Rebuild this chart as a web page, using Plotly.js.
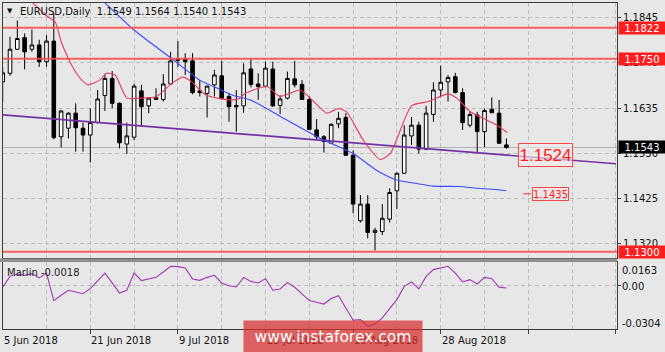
<!DOCTYPE html>
<html><head><meta charset="utf-8">
<script src="https://cdn.plot.ly/plotly-3.0.1.min.js"></script>
<style>html,body{margin:0;padding:0;background:#e7e7e7;overflow:hidden}#chart{width:665px;height:352px}</style>
</head><body><div id="chart"></div>
<script>
// ---------- data ----------
const dates = ['2018-06-05','2018-06-06','2018-06-07','2018-06-08','2018-06-11','2018-06-12','2018-06-13','2018-06-14','2018-06-15','2018-06-18',
'2018-06-19','2018-06-20','2018-06-21','2018-06-22','2018-06-25','2018-06-26','2018-06-27','2018-06-28','2018-06-29','2018-07-02',
'2018-07-03','2018-07-04','2018-07-05','2018-07-06','2018-07-09','2018-07-10','2018-07-11','2018-07-12','2018-07-13','2018-07-16',
'2018-07-17','2018-07-18','2018-07-19','2018-07-20','2018-07-23','2018-07-24','2018-07-25','2018-07-26','2018-07-27','2018-07-30',
'2018-07-31','2018-08-01','2018-08-02','2018-08-03','2018-08-06','2018-08-07','2018-08-08','2018-08-09','2018-08-10','2018-08-13',
'2018-08-14','2018-08-15','2018-08-16','2018-08-17','2018-08-20','2018-08-21','2018-08-22','2018-08-23','2018-08-24','2018-08-27',
'2018-08-28','2018-08-29','2018-08-30','2018-08-31','2018-09-03','2018-09-04','2018-09-05','2018-09-06','2018-09-07','2018-09-10'];
const openP = [1.1696,1.1716,1.1772,1.1799,1.1772,1.1782,1.1743,1.1791,1.1568,1.1588,
1.1623,1.1588,1.1572,1.1601,1.1664,1.1704,1.1646,1.1551,1.1567,1.1675,
1.1640,1.1655,1.1655,1.1691,1.1746,1.1749,1.1745,1.1675,1.1669,1.1689,
1.1710,1.1662,1.1641,1.1640,1.1726,1.1691,1.1686,1.1726,1.1641,1.1658,
1.1703,1.1690,1.1655,1.1584,1.1568,1.1553,1.1598,1.1613,1.1525,1.1372,
1.1411,1.1345,1.1347,1.1376,1.1442,1.1483,1.1570,1.1595,1.1539,1.1620,
1.1677,1.1696,1.1708,1.1671,1.1595,1.1619,1.1580,1.1632,1.1623,1.1549];
const highP = [1.1731,1.1801,1.1839,1.1809,1.1818,1.1794,1.1805,1.1856,1.1630,1.1625,
1.1646,1.1601,1.1634,1.1677,1.1714,1.1721,1.1648,1.1601,1.1691,1.1689,
1.1660,1.1681,1.1714,1.1766,1.1791,1.1763,1.1763,1.1700,1.1687,1.1724,
1.1745,1.1669,1.1677,1.1739,1.1749,1.1716,1.1743,1.1743,1.1665,1.1720,
1.1745,1.1700,1.1662,1.1609,1.1572,1.1599,1.1626,1.1623,1.1536,1.1432,
1.1432,1.1356,1.1411,1.1448,1.1484,1.1595,1.1614,1.1603,1.1640,1.1695,
1.1734,1.1712,1.1717,1.1681,1.1626,1.1626,1.1634,1.1660,1.1654,1.1564];
const lowP = [1.1648,1.1710,1.1770,1.1725,1.1766,1.1731,1.1731,1.1562,1.1543,1.1564,
1.1533,1.1533,1.1508,1.1599,1.1628,1.1634,1.1541,1.1528,1.1560,1.1592,
1.1623,1.1654,1.1650,1.1689,1.1731,1.1712,1.1667,1.1662,1.1613,1.1662,
1.1655,1.1603,1.1580,1.1624,1.1683,1.1654,1.1683,1.1638,1.1621,1.1655,
1.1683,1.1654,1.1584,1.1560,1.1531,1.1551,1.1588,1.1523,1.1390,1.1368,
1.1331,1.1303,1.1339,1.1368,1.1400,1.1481,1.1549,1.1529,1.1537,1.1603,
1.1660,1.1650,1.1669,1.1584,1.1590,1.1529,1.1544,1.1624,1.1551,1.1540];
const closeP = [1.1717,1.1772,1.1797,1.1766,1.1782,1.1743,1.1791,1.1566,1.1628,1.1623,
1.1589,1.1572,1.1601,1.1656,1.1704,1.1646,1.1554,1.1570,1.1686,1.1638,
1.1658,1.1659,1.1691,1.1745,1.1748,1.1743,1.1671,1.1671,1.1686,1.1712,
1.1658,1.1638,1.1638,1.1717,1.1690,1.1685,1.1728,1.1640,1.1656,1.1704,
1.1689,1.1655,1.1585,1.1568,1.1557,1.1597,1.1611,1.1525,1.1411,1.1411,
1.1345,1.1350,1.1378,1.1438,1.1483,1.1572,1.1595,1.1539,1.1623,1.1677,
1.1695,1.1706,1.1671,1.1601,1.1620,1.1580,1.1629,1.1624,1.1553,1.1543];

// fast (red) and slow (blue) moving averages, read at bar positions
const redMaBar = [3.7,6.0,7.2,8.0,9.0,10.1,11.0,11.7,13.3,14.2,15.4,17.0,18.8,21.1,23.2,24.7,25.9,27.5,28.8,31.1,32.5,33.2,36.2,38.0,40.7,41.9,44.4,46.0,47.1,49.4,51.7,53.1,56.0,58.3,61.0,62.2,64.0,65.8,67.7,69.1];
const redMaVal = [1.1887,1.1850,1.1835,1.1790,1.1750,1.1716,1.1697,1.1689,1.1700,1.1716,1.1712,1.1658,1.1658,1.1662,1.1693,1.1707,1.1696,1.1669,1.1660,1.1654,1.1658,1.1669,1.1685,1.1662,1.1677,1.1662,1.1623,1.1634,1.1626,1.1560,1.1515,1.1529,1.1640,1.1650,1.1668,1.1658,1.1627,1.1611,1.1595,1.1578];
const blueMaBar = [13.6,17.9,23.4,27.0,29.8,31.5,33.9,38.9,43.5,48.0,51.2,54.0,56.7,59.0,62.6,64.9,68.1,69.0];
const blueMaVal = [1.1887,1.1818,1.1747,1.1700,1.1678,1.1665,1.1654,1.1607,1.1564,1.1529,1.1490,1.1467,1.1459,1.1453,1.1452,1.1448,1.1444,1.1442];

// trend line
const trendBar = [0, 84];
const trendVal = [1.1619, 1.1505];

// Marlin oscillator
const marlin = [-0.0013,0.0063,0.0079,0.0070,0.0082,0.0052,0.0086,-0.0106,-0.0069,-0.0034,
-0.0046,-0.0058,-0.0023,0.0033,0.0086,0.0017,-0.0053,-0.0034,0.0086,0.0033,
0.0044,0.0056,0.0093,0.0133,0.0131,0.0121,0.0045,0.0035,0.0056,0.0070,
0.0017,-0.0002,-0.0011,0.0056,0.0028,0.0017,0.0047,-0.0034,-0.0025,0.0021,
-0.0013,-0.0058,-0.0106,-0.0118,-0.0130,-0.0092,-0.0072,-0.0157,-0.0243,-0.0239,
-0.0285,-0.0269,-0.0227,-0.0162,-0.0099,-0.0007,0.0024,-0.0025,0.0063,0.0110,
0.0121,0.0133,0.0086,0.0024,0.0040,0.0010,0.0056,0.0047,-0.0012,-0.0018];

const levels = [1.1822, 1.1750, 1.1300];
const priceTicks = [1.1845, 1.1740, 1.1635, 1.1530, 1.1425, 1.1320];
const dateLabelBars = [0, 12, 24, 36, 48, 60];
const dateLabels = ['5 Jun 2018','21 Jun 2018','9 Jul 2018','25 Jul 2018','10 Aug 2018','28 Aug 2018'];
const marlinTicks = [0.0163, 0.00, -0.0304];
const marlinTickText = ['0.0163', '0.00', '-0.0304'];
const trendLabel = 1.1524;
const slowMaLabel = 1.1435;
const symbol = 'EURUSD,Daily';
const indName = 'Marlin';

// ---------- chart ----------
const bars = dates.map((d, i) => i);
const last = bars.length - 1;
const BG = '#e7e7e7';
const FONT = 'DejaVu Sans, Verdana, sans-serif';
const GRID = '#bdbdbd';
const AX = '#3c3c3c';
const W = 665, H = 352, ML = 3, MR = 48, MT = 3, MB = 23;
const PW = W - ML - MR, PH = H - MT - MB;
const px = x => (x - ML) / PW;
const py = y => (H - MB - y) / PH;
const X0 = 0.04, X1 = 84.15;

const traces = [
  {type:'candlestick', x:bars, open:openP, high:highP, low:lowP, close:closeP,
   xaxis:'x', yaxis:'y', hoverinfo:'skip', whiskerwidth:0,
   increasing:{line:{color:'#000', width:1}, fillcolor:'#ffffff'},
   decreasing:{line:{color:'#000', width:1}, fillcolor:'#000000'}},
  {type:'scatter', mode:'lines', x:trendBar, y:trendVal, xaxis:'x', yaxis:'y', hoverinfo:'skip',
   line:{color:'#7332a6', width:1.6}},
  {type:'scatter', mode:'lines', x:blueMaBar, y:blueMaVal, xaxis:'x', yaxis:'y', hoverinfo:'skip',
   line:{color:'#3b4dff', width:1.1, shape:'spline', smoothing:0.6}},
  {type:'scatter', mode:'lines', x:redMaBar, y:redMaVal, xaxis:'x', yaxis:'y', hoverinfo:'skip',
   line:{color:'#e83a5c', width:1.1, shape:'spline', smoothing:0.6}},
  {type:'scatter', mode:'lines', x:bars, y:marlin, xaxis:'x2', yaxis:'y2', hoverinfo:'skip',
   line:{color:'#a237b4', width:1.1}}
];

const shapes = [];
levels.forEach(v => shapes.push({type:'line', xref:'paper', x0:0, x1:1, yref:'y', y0:v, y1:v,
  line:{color:'rgba(255,70,70,0.85)', width:2}, layer:'above'}));
shapes.push({type:'line', xref:'paper', x0:0, x1:1, yref:'y', y0:closeP[last], y1:closeP[last],
  line:{color:'#b3b3b3', width:1}, layer:'below'});
shapes.push({type:'rect', xref:'paper', x0:-0.01, x1:1, yref:'paper', y0:py(262), y1:py(258.5),
  fillcolor:'#8e8e8e', line:{width:0}, layer:'above'});
shapes.push({type:'line', xref:'x', x0:71.3, x1:72.4, yref:'y', y0:slowMaLabel, y1:slowMaLabel,
  line:{color:'#ff3030', width:1}, layer:'above'});

const ann = [];
// header
ann.push({xref:'paper', yref:'paper', x:px(9.5), y:py(11.5), text:'▼', showarrow:false,
  font:{family:FONT, size:7, color:'#111'}, xanchor:'center', yanchor:'middle'});
ann.push({xref:'paper', yref:'paper', x:px(18), y:py(12), showarrow:false, xanchor:'left', yanchor:'middle',
  text: symbol + '&nbsp;&nbsp;' + [openP[last], highP[last], lowP[last], closeP[last]].map(v => v.toFixed(4)).join(' '),
  font:{family:FONT, size:10, color:'#111'}});
// right axis boxes
levels.forEach(v => ann.push({xref:'paper', yref:'y', x:1, xshift:1, y:v, xanchor:'left', yanchor:'middle',
  text:v.toFixed(4), showarrow:false, bgcolor:'#ff1e1e', width:46, height:12, borderpad:0,
  font:{family:FONT, size:10, color:'#ffffff'}}));
ann.push({xref:'paper', yref:'y', x:1, xshift:1, y:closeP[last], xanchor:'left', yanchor:'middle',
  text:closeP[last].toFixed(4), showarrow:false, bgcolor:'#000000', width:46, height:12, borderpad:0,
  font:{family:FONT, size:10, color:'#ffffff'}});
// price labels on chart
ann.push({xref:'x', yref:'y', x:74.4, y:trendLabel, yshift:1, text:trendLabel.toFixed(4), showarrow:false,
  xanchor:'center', yanchor:'middle', bordercolor:'#ff4545', borderwidth:1, borderpad:1, width:51, height:20,
  bgcolor:'rgba(240,236,236,0.6)', font:{family:'Liberation Sans, Arial, sans-serif', size:17, color:'#ff2020'}});
ann.push({xref:'x', yref:'y', x:75.0, y:slowMaLabel, text:slowMaLabel.toFixed(4), showarrow:false,
  xanchor:'center', yanchor:'middle', bordercolor:'#ff4545', borderwidth:1, borderpad:0, width:35, height:12,
  font:{family:FONT, size:10, color:'#ff2020'}});
// indicator label
ann.push({xref:'paper', yref:'paper', x:px(5), y:py(272), xanchor:'left', yanchor:'middle', showarrow:false,
  text: indName + ' ' + marlin[last].toFixed(4), font:{family:FONT, size:10, color:'#222'}});
// indicator scale labels
const mShift = [-8.3, -1, 6];
marlinTicks.forEach((v, k) => ann.push({xref:'paper', yref:'y2', x:1, xshift:3, y:v, yshift:mShift[k],
  xanchor:'left', yanchor:'middle', showarrow:false, text:marlinTickText[k],
  font:{family:FONT, size:10, color:'#111'}}));
// date labels
dateLabelBars.forEach((b, k) => ann.push({xref:'x2', yref:'paper', x:Math.max(b, X0 + 0.01),
  xshift:(b < X0 ? -1 : -1), y:py(340), xanchor:'left',
  yanchor:'middle', showarrow:false, text:dateLabels[k], font:{family:FONT, size:10, color:'#111'}}));
// watermark
ann.push({xref:'paper', yref:'paper', x:px(333), y:py(336.5), xanchor:'center', yanchor:'middle', showarrow:false,
  text:'www.instaforex.com', bgcolor:'rgba(216,44,44,0.72)', width:178, height:31, borderpad:0,
  font:{family:FONT, size:15.5, color:'#ffffff'}});

const gridCommon = {showgrid:true, gridcolor:GRID, griddash:'4px,3px', gridwidth:1, zeroline:false,
  showline:true, mirror:true, linecolor:AX, linewidth:1, fixedrange:true};

const layout = {
  width:W, height:H, margin:{l:ML, r:MR, t:MT, b:MB, pad:0},
  paper_bgcolor:BG, plot_bgcolor:BG, showlegend:false, dragmode:false,
  font:{family:FONT, size:10, color:'#111'},
  xaxis:Object.assign({}, gridCommon, {domain:[0,1], anchor:'y', range:[X0, X1], rangeslider:{visible:false},
    tickmode:'linear', tick0:0, dtick:6, showticklabels:false, ticks:''}),
  yaxis:Object.assign({}, gridCommon, {domain:[py(258), 1], anchor:'x', side:'right', range:[1.12854, 1.18798],
    tickmode:'array', tickvals:priceTicks, ticktext:priceTicks.map(v => v.toFixed(4)),
    ticks:'outside', ticklen:3, tickcolor:AX, tickfont:{family:FONT, size:10, color:'#111'}}),
  xaxis2:Object.assign({}, gridCommon, {domain:[0,1], anchor:'y2', matches:'x',
    tickmode:'linear', tick0:0, dtick:12, showticklabels:false, ticks:'outside', ticklen:4, tickcolor:AX,
    minor:{tickmode:'linear', tick0:6, dtick:12, showgrid:true, gridcolor:GRID, griddash:'4px,3px', ticks:''}}),
  yaxis2:Object.assign({}, gridCommon, {domain:[0, py(262)], anchor:'x2', side:'right', range:[-0.0304, 0.0163],
    tickmode:'array', tickvals:[0], showticklabels:false, ticks:'outside', ticklen:3, tickcolor:AX}),
  shapes:shapes, annotations:ann
};

Plotly.newPlot('chart', traces, layout, {staticPlot:true, displayModeBar:false});
</script></body></html>
